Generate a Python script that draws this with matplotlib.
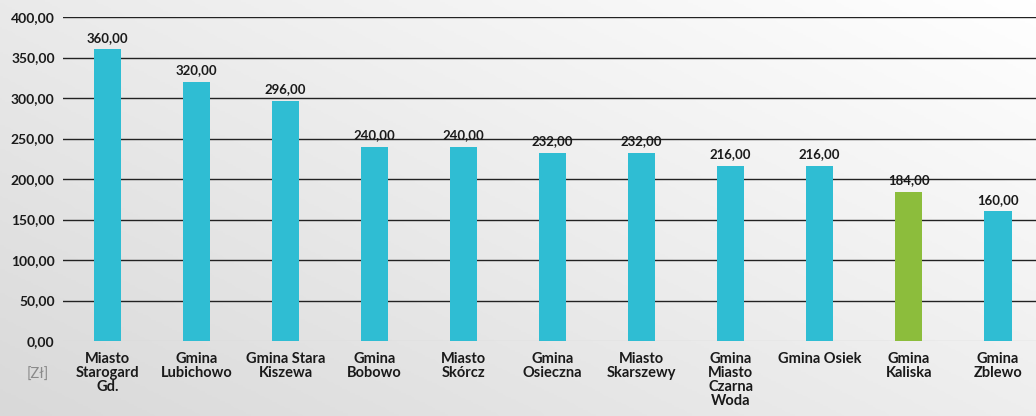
import numpy as np
import matplotlib.pyplot as plt
from matplotlib.colors import LinearSegmentedColormap

# category labels and values (zł)
categories = ['Miasto\nStarogard\nGd.', 'Gmina\nLubichowo', 'Gmina Stara\nKiszewa',
              'Gmina\nBobowo', 'Miasto\nSkórcz', 'Gmina\nOsieczna', 'Miasto\nSkarszewy',
              'Gmina\nMiasto\nCzarna\nWoda', 'Gmina Osiek', 'Gmina\nKaliska', 'Gmina\nZblewo']
values = [360, 320, 296, 240, 240, 232, 232, 216, 216, 184, 160]
highlight = 'Gmina\nKaliska'
yticks = [0, 50, 100, 150, 200, 250, 300, 350, 400]

cyan = '#2fbdd3'
green = '#8cbd3c'

plt.rcParams['font.family'] = ['Lato', 'DejaVu Sans']

fig = plt.figure(figsize=(10.36, 4.16), dpi=100)

# background gradient, light in the upper right, greyer toward the left/bottom
bg = fig.add_axes([0, 0, 1, 1], zorder=-10)
yy, xx = np.mgrid[0:1:200j, 0:1:400j]
grad = np.clip(0.55 * (1 - xx) + 0.45 * (1 - yy), 0, 1)
cmap = LinearSegmentedColormap.from_list('bg', ['#ffffff', '#d9d9d9'])
bg.imshow(grad, cmap=cmap, aspect='auto', extent=[0, 1, 0, 1], origin='lower')
bg.axis('off')

ax = fig.add_axes([63 / 1036, 75 / 416, 1 - 63 / 1036, 324 / 416])
ax.patch.set_alpha(0)

x = np.arange(len(categories))
colors = [green if c == highlight else cyan for c in categories]
bars = ax.bar(x, values, width=0.31, color=colors, zorder=3)

for xi, v in zip(x, values):
    ax.text(xi, v + 7, '{:.2f}'.format(v).replace('.', ','), ha='center', va='bottom',
            fontsize=9.5, fontweight='bold', color='#1a1a1a')

ax.set_ylim(0, 400)
ax.set_xlim(-0.5, 10.43)
ax.set_yticks(yticks)
ax.set_yticklabels(['{:.2f}'.format(t).replace('.', ',') for t in yticks],
                   fontsize=10, fontweight='bold', color='#1a1a1a')
for t in yticks[1:]:
    ax.axhline(t, color='#222222', lw=1, zorder=1)
ax.axhline(0, color='#d8d8d8', lw=1, zorder=1)

ax.set_xticks(x)
ax.set_xticklabels(categories, fontsize=10.5, fontweight='bold', color='#1a1a1a',
                   linespacing=1.0)
ax.tick_params(axis='both', length=0)
ax.tick_params(axis='x', pad=8)
ax.tick_params(axis='y', pad=6)
for s in ax.spines.values():
    s.set_visible(False)

fig.text(38 / 1036, 1 - 375 / 416, '[Zł]', ha='center', va='center', fontsize=10.5,
         color='#8a8a8a')

fig.savefig('out.png', dpi=100)
